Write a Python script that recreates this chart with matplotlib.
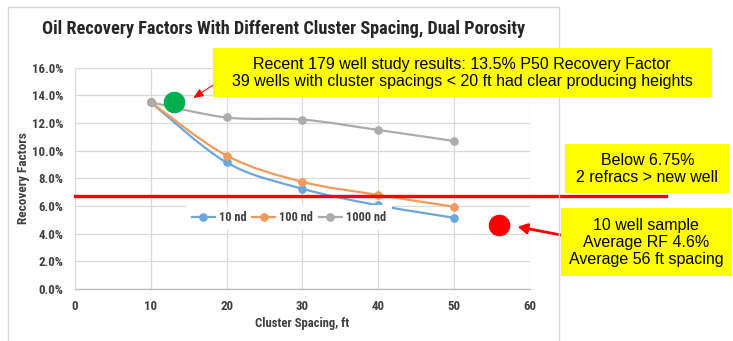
import os
import numpy as np
import matplotlib
matplotlib.use("Agg")
import matplotlib.pyplot as plt
from matplotlib.path import Path
from matplotlib.patches import PathPatch, Rectangle
from matplotlib import font_manager
from matplotlib.font_manager import FontProperties

# ---- data -------------------------------------------------------------
spacing = [10, 20, 30, 40, 50]
rf_10nd = [13.5, 9.15, 7.25, 6.05, 5.15]
rf_100nd = [13.5, 9.65, 7.75, 6.8, 5.95]
rf_1000nd = [13.5, 12.4, 12.25, 11.5, 10.7]
series_names = ["10 nd", "100 nd", "1000 nd"]

refrac_threshold = 6.75          # % RF below which two refracs beat a new well
study_point = (13.0, 13.5)       # 179 well study, P50 RF
sample_point = (56, 4.6)         # 10 well sample: avg spacing, avg RF

x_ticks = [0, 10, 20, 30, 40, 50, 60]
y_ticks = [0, 2, 4, 6, 8, 10, 12, 14, 16]

title = "Oil Recovery Factors With Different Cluster Spacing, Dual Porosity"
x_label = "Cluster Spacing, ft"
y_label = "Recovery Factors"
note_study = ("Recent 179 well study results: 13.5% P50 Recovery Factor\n"
              "39 wells with cluster spacings < 20 ft had clear producing heights")
note_refrac = "Below 6.75%\n2 refracs > new well"
note_sample = "10 well sample\nAverage RF 4.6%\nAverage 56 ft spacing"


# ---- fonts ------------------------------------------------------------
def _is_bold(w):
    if isinstance(w, str):
        return w.lower() in ("bold", "demibold", "semibold", "heavy", "black", "extra bold")
    return w >= 600


def pick_narrow_bold():
    best, best_rank = None, 99
    prefs = ["liberation sans narrow", "roboto condensed", "open sans condensed",
             "dejavu sans condensed", "noto sans condensed", "arial narrow"]
    for f in font_manager.fontManager.ttflist:
        key = (f.name + " " + os.path.basename(f.fname)).lower()
        cond = ("narrow" in key or "condensed" in key or
                str(f.stretch).lower() in ("condensed", "semi-condensed", "semicondensed"))
        if not cond or not _is_bold(f.weight) or f.style != "normal":
            continue
        rank = len(prefs)
        for i, p in enumerate(prefs):
            if p in key or p.replace(" ", "") in key.replace(" ", ""):
                rank = i
                break
        if rank < best_rank:
            best, best_rank = f.fname, rank
    if best:
        return FontProperties(fname=best)
    return FontProperties(family="Roboto", weight="bold")


NARROW = pick_narrow_bold()
plain = "Liberation Sans"


def nfont(size):
    fp = NARROW.copy()
    fp.set_size(size)
    return fp


W, H, DPI = 733, 341, 100
fig = plt.figure(figsize=(W / DPI, H / DPI), dpi=DPI)
renderer = fig.canvas.get_renderer()


def fx(px):
    return px / W


def fy(py):
    return 1 - py / H


def fitted_text(x, y, s, target_px, size0=10, rotation=0, **kw):
    """Place text and scale its font so the long side spans target_px pixels."""
    t = fig.text(x, y, s, fontproperties=nfont(size0), rotation=rotation, **kw)
    bb = t.get_window_extent(renderer)
    span = bb.height if rotation else bb.width
    t.set_fontproperties(nfont(size0 * target_px / span))
    return t


# chart frame
fig.patches.append(Rectangle((fx(8), fy(350)), fx(559) - fx(8), fy(6.7) - fy(350),
                             transform=fig.transFigure, fill=False,
                             edgecolor="#d9d9d9", lw=1.0, zorder=0))

ax = fig.add_axes([fx(75), fy(289), fx(529.7) - fx(75), fy(67.7) - fy(289)])
ax.set_xlim(0, 60)
ax.set_ylim(0, 16)
ax.set_xticks(x_ticks)
ax.set_yticks(y_ticks)
ax.set_yticklabels([f"{v:.1f}%" for v in y_ticks])
ax.grid(True, color="#d9d9d9", lw=0.9)
ax.set_axisbelow(True)
for s in ("top", "right", "left"):
    ax.spines[s].set_visible(False)
ax.spines["bottom"].set_color("#bfbfbf")
ax.spines["bottom"].set_linewidth(1.0)
ax.tick_params(length=0, labelcolor="#404040")
ax.tick_params(axis="x", pad=8)
ax.tick_params(axis="y", pad=8.5)
for lab in ax.get_xticklabels() + ax.get_yticklabels():
    lab.set_fontproperties(nfont(9.3))

fitted_text(fx(283.5), fy(29), title, 484, size0=12, ha="center", va="center",
            color="#262626")
fitted_text(fx(302.5), fy(323), x_label, 95, size0=9.5, ha="center", va="center",
            color="#404040")
fitted_text(fx(24), fy(178.5), y_label, 92, size0=9.5, rotation=90, ha="center",
            va="center", color="#404040")


def smooth_path(xs, ys):
    """Cubic Bezier through the points, Catmull-Rom style (like a smoothed spreadsheet line)."""
    xs = np.asarray(xs, float)
    ys = np.asarray(ys, float)
    px = np.concatenate([[xs[0]], xs, [xs[-1]]])
    py = np.concatenate([[ys[0]], ys, [ys[-1]]])
    verts = [(xs[0], ys[0])]
    codes = [Path.MOVETO]
    for i in range(1, len(xs)):
        c1 = (px[i] + (px[i + 1] - px[i - 1]) / 6, py[i] + (py[i + 1] - py[i - 1]) / 6)
        c2 = (px[i + 1] - (px[i + 2] - px[i]) / 6, py[i + 1] - (py[i + 2] - py[i]) / 6)
        verts += [c1, c2, (xs[i], ys[i])]
        codes += [Path.CURVE4] * 3
    return Path(verts, codes)


colors = ["#6CA6DB", "#F29A5C", "#ABABAB"]
for vals, name, c in zip([rf_10nd, rf_100nd, rf_1000nd], series_names, colors):
    ax.add_patch(PathPatch(smooth_path(spacing, vals), fill=False, edgecolor=c,
                           lw=1.6, zorder=3))
    ax.plot(spacing, vals, ls="none", marker="o", ms=5.2, color=c, zorder=4)
    # legend proxy
    ax.plot([], [], color=c, lw=1.6, marker="o", ms=5.2, label=name)

leg = ax.legend(loc="center", bbox_to_anchor=(0.4706, 0.323), ncol=3,
                frameon=True, framealpha=1.0, edgecolor="none", facecolor="white",
                fancybox=False, handlelength=1.85, handletextpad=0.35,
                columnspacing=0.45, borderpad=0.45, prop=nfont(8.9))
for t in leg.get_texts():
    t.set_color("#404040")
leg.set_zorder(5)

# refrac threshold line runs past the plot into the note area
ax.axhline(refrac_threshold, xmin=0, xmax=(666 - 75) / (529.7 - 75),
           color="#FF0000", lw=2.4, clip_on=False, zorder=6)

# highlighted points
ax.plot(*study_point, marker="o", ms=14.5, color="#00B050", ls="none",
        clip_on=False, zorder=7)
ax.plot(*sample_point, marker="o", ms=14.5, color="#FF0000", ls="none",
        clip_on=False, zorder=7)


def note(x0, y0, x1, y1, text):
    fig.patches.append(Rectangle((fx(x0), fy(y1)), fx(x1) - fx(x0), fy(y0) - fy(y1),
                                 transform=fig.transFigure, facecolor="#FFFF00",
                                 edgecolor="none", zorder=8))
    fig.text(fx((x0 + x1) / 2), fy((y0 + y1) / 2 + 0.5), text, ha="center",
             va="center", fontfamily=plain, fontsize=11.5, color="black",
             linespacing=1.18, zorder=9)


note(212.7, 48.3, 711.6, 96.7, note_study)
note(565.3, 144.0, 729.3, 192.7, note_refrac)
note(561.0, 208.3, 731.7, 275.7, note_sample)

# arrows pointing from the notes to the points
ax.annotate("", xy=(study_point[0] + 2.6, study_point[1] + 0.3), xycoords="data",
            xytext=(fx(221.7), fy(79.3)), textcoords="figure fraction",
            arrowprops=dict(arrowstyle="-|>,head_length=0.6,head_width=0.25",
                            color="#FF0000", lw=0.8, shrinkA=0, shrinkB=0),
            zorder=10, annotation_clip=False)
ax.annotate("", xy=(sample_point[0] + 2.4, sample_point[1] - 0.1), xycoords="data",
            xytext=(fx(561), fy(235)), textcoords="figure fraction",
            arrowprops=dict(arrowstyle="-|>,head_length=0.55,head_width=0.3",
                            color="#FF0000", lw=2.0, shrinkA=0, shrinkB=0),
            zorder=10, annotation_clip=False)

fig.savefig("out.png", dpi=DPI, facecolor="white")
